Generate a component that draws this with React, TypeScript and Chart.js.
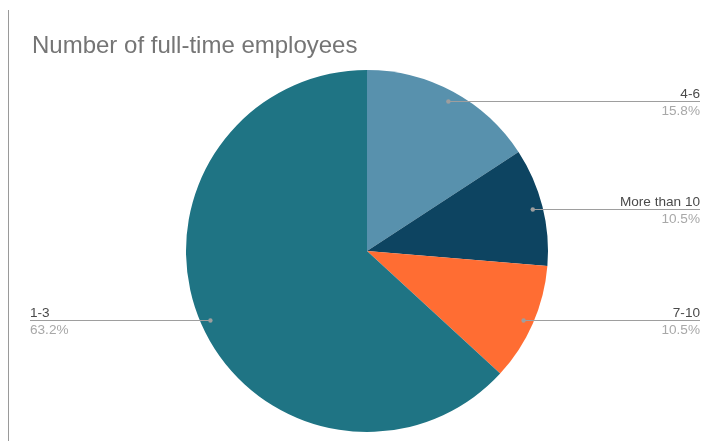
import React, { useEffect, useRef } from "react";
import { Chart, registerables } from "chart.js";

Chart.register(...registerables);

const categories = ["4-6", "More than 10", "7-10", "1-3"];
const counts = [3, 2, 2, 12];
const percentLabels = ["15.8%", "10.5%", "10.5%", "63.2%"];
const sliceColors = ["#5891AD", "#0D4461", "#FF6D33", "#1F7484"];
const titleText = "Number of full-time employees";

const leaderPlugin = {
  id: "leaders",
  afterDraw(chart: any) {
    const ctx = chart.ctx as CanvasRenderingContext2D;
    const meta = chart.getDatasetMeta(0);
    ctx.save();
    // title
    ctx.font = "24px 'Liberation Sans', Arial, sans-serif";
    ctx.fillStyle = "#757575";
    ctx.textAlign = "left";
    ctx.textBaseline = "alphabetic";
    ctx.fillText(titleText, 32, 53);

    meta.data.forEach((arc: any, i: number) => {
      const { x, y, startAngle, endAngle, outerRadius } = arc.getProps(
        ["x", "y", "startAngle", "endAngle", "outerRadius"],
        true
      );
      const mid = (startAngle + endAngle) / 2;
      const r = outerRadius - 10;
      const px = x + Math.cos(mid) * r;
      const py = Math.round(y + Math.sin(mid) * r) + 0.5;
      const right = Math.cos(mid) >= 0;
      const endX = right ? 700 : 30;
      ctx.strokeStyle = "#9E9E9E";
      ctx.lineWidth = 1.2;
      ctx.beginPath();
      ctx.moveTo(px, py);
      ctx.lineTo(endX, py);
      ctx.stroke();
      ctx.fillStyle = "#9E9E9E";
      ctx.beginPath();
      ctx.arc(px, py, 2.2, 0, Math.PI * 2);
      ctx.fill();

      ctx.font = "13.6px 'Liberation Sans', Arial, sans-serif";
      ctx.textAlign = right ? "right" : "left";
      ctx.fillStyle = "#4a4a4a";
      ctx.textBaseline = "alphabetic";
      ctx.fillText(categories[i], endX, py - 4);
      ctx.fillStyle = "#A8A8A8";
      ctx.textBaseline = "top";
      ctx.fillText(percentLabels[i], endX, py + 3);
    });
    ctx.restore();
  },
};

export default function App() {
  const ref = useRef<HTMLCanvasElement>(null);
  useEffect(() => {
    if (!ref.current) return;
    const chart = new Chart(ref.current, {
      type: "pie",
      data: {
        labels: categories,
        datasets: [
          {
            data: counts,
            backgroundColor: sliceColors,
            borderWidth: 0,
          },
        ],
      },
      options: {
        responsive: false,
        animation: false,
        layout: { padding: { top: 70, bottom: 9, left: 186, right: 157 } },
        plugins: {
          legend: { display: false },
          tooltip: { enabled: false },
          title: { display: false },
        },
      },
      plugins: [leaderPlugin],
    });
    return () => chart.destroy();
  }, []);
  return (
    <div
      style={{
        position: "fixed",
        left: 0,
        top: 0,
        width: 705,
        height: 441,
        background: "#fff",
      }}
    >
      <div
        style={{
          position: "absolute",
          left: 8,
          top: 10,
          width: 1,
          height: 431,
          background: "#9a9a9a",
        }}
      />
      <canvas ref={ref} width={705} height={441} style={{ display: "block" }} />
    </div>
  );
}
